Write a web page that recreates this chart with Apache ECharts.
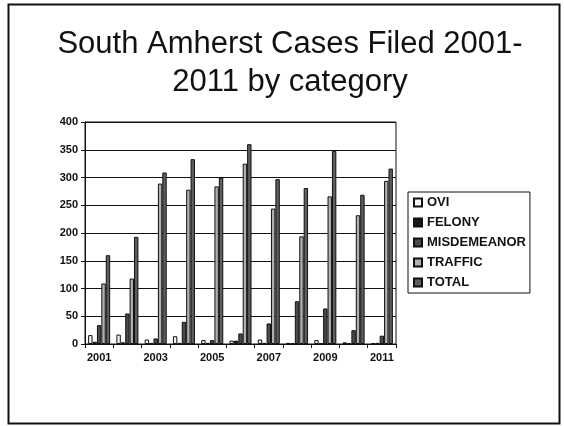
<!DOCTYPE html>
<html>
<head>
<meta charset="utf-8">
<script src="https://cdn.jsdelivr.net/npm/echarts@6/dist/echarts.min.js"></script>
<style>
  html, body { margin: 0; padding: 0; background: #ffffff; }
  #chart { width: 564px; height: 426px; }
</style>
</head>
<body>
<div id="chart"></div>
<script>
// Cases filed per year, by category
const years = ['2001','2002','2003','2004','2005','2006','2007','2008','2009','2010','2011'];
const ovi         = [16, 17, 8, 14, 7, 6, 8, 2, 7, 3, 1];
const felony      = [4, 3, 2, 2, 2, 6, 2, 1, 1, 1, 2];
const misdemeanor = [34, 55, 10, 40, 7, 19, 37, 77, 64, 25, 15];
const traffic     = [109, 118, 289, 278, 284, 325, 244, 194, 266, 232, 294];
const total       = [160, 193, 309, 333, 300, 360, 297, 281, 348, 269, 316];
const yTicks = [0, 50, 100, 150, 200, 250, 300, 350, 400];

const font = '"Liberation Sans", Arial, sans-serif';

function bar(name, data, color) {
  return {
    name: name,
    type: 'bar',
    data: data,
    barGap: '0%',
    barCategoryGap: '22%',
    itemStyle: { color: color, borderColor: '#111', borderWidth: 1 }
  };
}

const chart = echarts.init(document.getElementById('chart'));
chart.setOption({
  backgroundColor: '#ffffff',
  animation: false,
  title: {
    text: 'South Amherst Cases Filed 2001-\n2011 by category',
    left: 285,
    textAlign: 'center',
    top: 20,
    textStyle: { fontFamily: font, fontSize: 31, fontWeight: 'normal', color: '#111', lineHeight: 38 }
  },
  graphic: [{
    type: 'rect',
    shape: { x: 8.5, y: 4.5, width: 551, height: 419 },
    style: { fill: 'none', stroke: '#111', lineWidth: 2 },
    silent: true
  }],
  legend: {
    orient: 'vertical',
    left: 408,
    top: 192,
    padding: [4, 4, 4, 5],
    icon: 'rect',
    itemWidth: 8,
    itemHeight: 8,
    itemGap: 7,
    borderColor: '#111',
    borderWidth: 1,
    textStyle: { fontFamily: font, fontSize: 13, fontWeight: 'bold', color: '#111', padding: [0, 0, 0, 0] },
    data: ['OVI', 'FELONY', 'MISDEMEANOR', 'TRAFFIC', 'TOTAL']
  },
  grid: {
    left: 85, right: 168, top: 122, bottom: 82,
    show: true, borderColor: '#111', borderWidth: 1, backgroundColor: 'transparent'
  },
  xAxis: {
    type: 'category',
    data: years,
    axisLine: { lineStyle: { color: '#111', width: 1 } },
    axisTick: { show: true, interval: 0, length: 4, lineStyle: { color: '#111' } },
    axisLabel: { interval: 1, fontFamily: font, fontSize: 11, fontWeight: 'bold', color: '#111', margin: 8 }
  },
  yAxis: {
    type: 'value',
    min: 0, max: 400, interval: 50,
    axisLine: { show: true, lineStyle: { color: '#111', width: 1 } },
    axisTick: { show: true, length: 4, lineStyle: { color: '#111' } },
    splitLine: { lineStyle: { color: '#111', width: 1 } },
    axisLabel: {
      fontFamily: font, fontSize: 11, fontWeight: 'bold', color: '#111', margin: 7,
      formatter: v => (yTicks.indexOf(v) >= 0 ? String(v) : '')
    }
  },
  series: [
    bar('OVI', ovi, '#f4f4f4'),
    bar('FELONY', felony, '#1a1a1a'),
    bar('MISDEMEANOR', misdemeanor, '#4a4a4a'),
    bar('TRAFFIC', traffic, '#b0b0b0'),
    bar('TOTAL', total, '#5e5e5e')
  ]
});
</script>
</body>
</html>
